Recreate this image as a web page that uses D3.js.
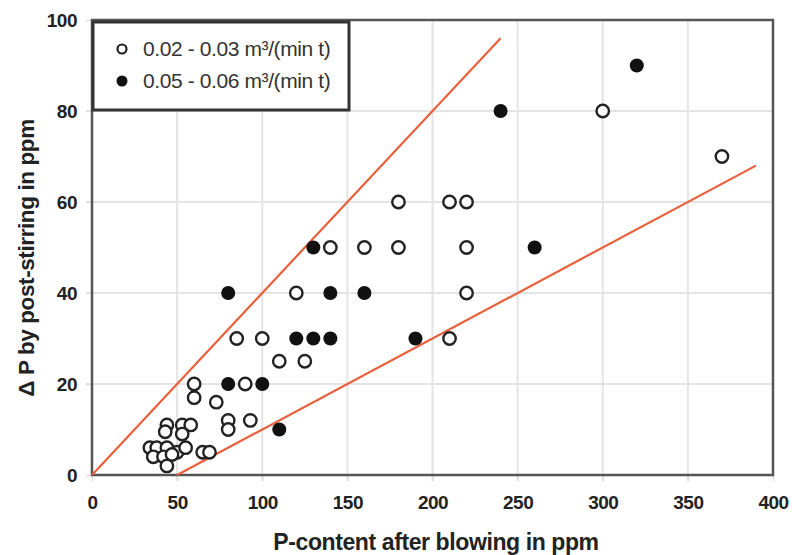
<!DOCTYPE html>
<html><head><meta charset="utf-8">
<script src="https://cdn.jsdelivr.net/npm/d3@7"></script>
<style>body{margin:0;background:#fff}svg{display:block}text{font-family:"Liberation Sans",Arial,sans-serif}</style>
</head><body><svg id="c" width="792" height="555"></svg>
<script>
const xTicks=[0,50,100,150,200,250,300,350,400];
const yTicks=[0,20,40,60,80,100];
const seriesNames=["0.02 - 0.03 m³/(min t)","0.05 - 0.06 m³/(min t)"];
const openPts=[[34,6],[38,6],[44,6],[50,5],[55,6],[36,4],[42,4],[47,4.5],[44,2],[65,5],[69,5],
[44,11],[43,9.5],[53,11],[58,11],[53,9],[80,12],[80,10],[93,12],
[60,20],[60,17],[73,16],[90,20],[85,30],[100,30],[110,25],[125,25],[120,40],
[140,50],[160,50],[180,50],[180,60],[210,60],[220,60],[220,50],[220,40],[210,30],[300,80],[370,70]];
const filledPts=[[80,40],[80,20],[100,20],[110,10],[120,30],[130,30],[140,30],[130,50],[140,40],[160,40],[190,30],[240,80],[260,50],[320,90]];
const upperLine=[[0,0],[240,96]];
const lowerLine=[[50,0],[390,68]];

const svg=d3.select("#c");
const L=92,R=773,T=20,B=475;
const x=d3.scaleLinear().domain([0,400]).range([L,R]);
const y=d3.scaleLinear().domain([0,100]).range([B,T]);

// grid
svg.append("g").selectAll("line").data(xTicks.slice(1,-1)).join("line")
 .attr("x1",d=>x(d)).attr("x2",d=>x(d)).attr("y1",T).attr("y2",B+6)
 .attr("stroke","#e4e4e4").attr("stroke-width",2);
svg.append("g").selectAll("line").data(yTicks.slice(1,-1)).join("line")
 .attr("y1",d=>y(d)).attr("y2",d=>y(d)).attr("x1",L-6).attr("x2",R)
 .attr("stroke","#e4e4e4").attr("stroke-width",2);

// axes labels via d3 axes
const xa=svg.append("g").attr("transform",`translate(0,${B})`)
 .call(d3.axisBottom(x).tickValues(xTicks).tickSize(6).tickPadding(15));
const ya=svg.append("g").attr("transform",`translate(${L},0)`)
 .call(d3.axisLeft(y).tickValues(yTicks).tickSize(6).tickPadding(9));
[xa,ya].forEach(a=>{a.select(".domain").remove();
 a.selectAll(".tick line").attr("stroke","#ddd").attr("stroke-width",1.5);
 a.selectAll("text").attr("font-size",19).attr("font-weight","bold").attr("fill","#222")
  .attr("letter-spacing","-0.5")
  .style("font-family",'"Liberation Sans",Arial,sans-serif');});

// plot border
svg.append("rect").attr("x",L).attr("y",T).attr("width",R-L).attr("height",B-T)
 .attr("fill","none").attr("stroke","#555").attr("stroke-width",2.5);

// fit lines
const line=d3.line().x(d=>x(d[0])).y(d=>y(d[1]));
[upperLine,lowerLine].forEach(l=>svg.append("path").attr("d",line(l))
 .attr("stroke","#e8603c").attr("stroke-width",2.2).attr("fill","none"));

// points
svg.append("g").selectAll("circle").data(openPts).join("circle")
 .attr("cx",d=>x(d[0])).attr("cy",d=>y(d[1])).attr("r",6.2)
 .attr("fill","#fff").attr("stroke","#222").attr("stroke-width",2.4);
svg.append("g").selectAll("circle").data(filledPts).join("circle")
 .attr("cx",d=>x(d[0])).attr("cy",d=>y(d[1])).attr("r",7)
 .attr("fill","#111");

// legend
const lg=svg.append("g");
lg.append("rect").attr("x",L+1).attr("y",T+2).attr("width",256).attr("height",88)
 .attr("fill","#fff").attr("stroke","#333").attr("stroke-width",3);
seriesNames.forEach((n,i)=>{
 const cy=T+29+i*32;
 lg.append("circle").attr("cx",122).attr("cy",cy).attr("r",i?5.5:4.5)
  .attr("fill",i?"#111":"#fff").attr("stroke","#222").attr("stroke-width",i?0:2.2);
 lg.append("text").attr("x",143).attr("y",cy+7).attr("font-size",21).attr("fill","#333")
  .attr("letter-spacing","-0.4").text(n);
});

// titles
svg.append("text").attr("x",436).attr("y",550).attr("text-anchor","middle")
 .attr("font-size",23).attr("font-weight","bold").attr("fill","#222").attr("letter-spacing","-0.4")
 .text("P-content after blowing in ppm");
svg.append("text").attr("transform","translate(34,258) rotate(-90)").attr("text-anchor","middle")
 .attr("font-size",22.5).attr("font-weight","bold").attr("fill","#222").attr("letter-spacing","-0.4")
 .text("Δ P by post-stirring in ppm");
</script></body></html>
